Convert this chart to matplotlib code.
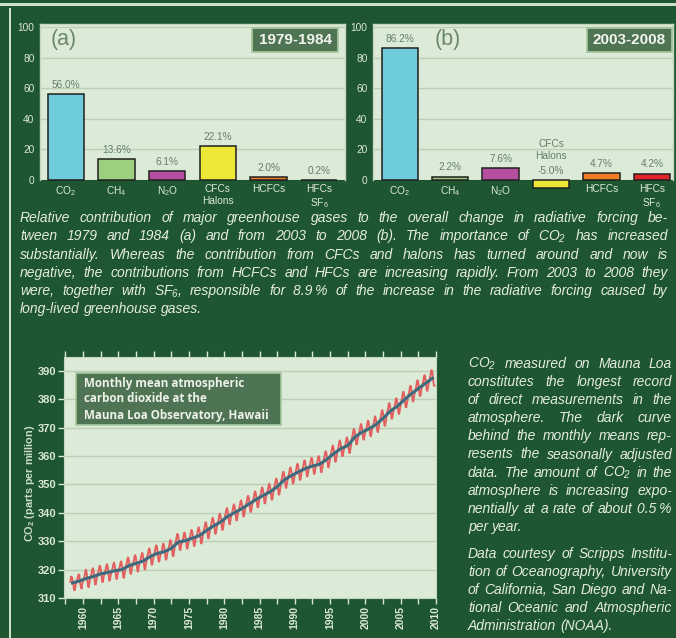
import numpy as np
import matplotlib
matplotlib.use("Agg")
import matplotlib.pyplot as plt
from matplotlib.patches import Rectangle

# ---------------------------------------------------------------- data
gases = ["CO$_\\mathregular{2}$", "CH$_\\mathregular{4}$", "N$_\\mathregular{2}$O",
         "CFCs\nHalons", "HCFCs", "HFCs\nSF$_\\mathregular{6}$"]
forcing_1979_1984 = [56.0, 13.6, 6.1, 22.1, 2.0, 0.2]
forcing_2003_2008 = [86.2, 2.2, 7.6, -5.0, 4.7, 4.2]
gas_colors = ["#6ecbd9", "#9ccf7e", "#b64f9f", "#ede838", "#f07e24", "#e2262b"]

co2_years = list(range(1958, 2010))
# monthly mean CO2 (ppm), Jan..Dec per year
co2_monthly = [
    [None, None, 315.7, 317.5, 317.5, 317.1, 315.9, 314.9, 313.2, 312.7, 313.3, 314.7],
    [315.6, 316.4, 316.7, 317.7, 318.3, 318.2, 316.5, 314.8, 313.8, 313.3, 314.8, 315.6],
    [316.4, 317.0, 317.6, 319.0, 320.0, 319.6, 318.2, 315.9, 314.2, 313.8, 315.0, 316.2],
    [317.1, 317.9, 318.7, 319.9, 320.5, 320.0, 318.5, 316.5, 314.8, 314.7, 316.0, 317.2],
    [318.0, 318.8, 319.6, 320.8, 321.4, 320.9, 319.4, 317.4, 315.7, 315.6, 316.9, 318.1],
    [318.5, 319.3, 320.1, 321.3, 321.9, 321.4, 319.9, 317.9, 316.2, 316.1, 317.4, 318.6],
    [319.1, 319.9, 320.7, 321.9, 322.5, 322.0, 320.5, 318.5, 316.8, 316.7, 318.0, 319.2],
    [319.5, 320.3, 321.1, 322.3, 322.9, 322.4, 320.9, 318.9, 317.2, 317.1, 318.4, 319.6],
    [320.9, 321.7, 322.5, 323.7, 324.3, 323.8, 322.3, 320.3, 318.6, 318.5, 319.8, 321.0],
    [321.7, 322.5, 323.3, 324.5, 325.1, 324.6, 323.1, 321.1, 319.4, 319.3, 320.6, 321.8],
    [322.5, 323.3, 324.1, 325.3, 325.9, 325.4, 323.9, 321.9, 320.2, 320.1, 321.4, 322.6],
    [324.1, 324.9, 325.7, 326.9, 327.5, 327.0, 325.5, 323.5, 321.8, 321.7, 323.0, 324.2],
    [325.2, 326.0, 326.8, 328.0, 328.6, 328.1, 326.6, 324.6, 322.9, 322.8, 324.1, 325.3],
    [325.6, 326.4, 327.3, 328.6, 329.2, 328.6, 327.3, 325.3, 323.6, 323.5, 324.9, 326.1],
    [326.8, 327.6, 328.5, 329.8, 330.4, 329.8, 328.5, 326.5, 324.8, 324.7, 326.1, 327.3],
    [329.0, 329.8, 330.7, 332.0, 332.6, 332.0, 330.7, 328.7, 327.0, 326.9, 328.3, 329.5],
    [329.5, 330.3, 331.2, 332.5, 333.1, 332.5, 331.2, 329.2, 327.5, 327.4, 328.8, 330.0],
    [330.4, 331.2, 332.1, 333.4, 334.0, 333.4, 332.1, 330.1, 328.4, 328.3, 329.7, 330.9],
    [331.3, 332.1, 333.0, 334.3, 334.9, 334.3, 333.0, 331.0, 329.3, 329.2, 330.6, 331.8],
    [333.1, 333.9, 334.8, 336.1, 336.7, 336.1, 334.8, 332.8, 331.1, 331.0, 332.4, 333.6],
    [334.7, 335.5, 336.4, 337.7, 338.3, 337.7, 336.4, 334.4, 332.7, 332.6, 334.0, 335.2],
    [336.1, 336.9, 337.8, 339.1, 339.7, 339.1, 337.8, 335.8, 334.1, 334.0, 335.4, 336.6],
    [338.1, 338.9, 339.8, 341.1, 341.7, 341.1, 339.8, 337.8, 336.1, 336.0, 337.4, 338.6],
    [339.4, 340.2, 341.1, 342.4, 343.0, 342.4, 341.1, 339.1, 337.4, 337.3, 338.7, 339.9],
    [340.8, 341.6, 342.5, 343.8, 344.4, 343.8, 342.5, 340.5, 338.8, 338.7, 340.1, 341.3],
    [342.4, 343.2, 344.1, 345.4, 346.0, 345.4, 344.1, 342.1, 340.4, 340.3, 341.7, 342.9],
    [344.0, 344.8, 345.7, 347.0, 347.6, 347.0, 345.7, 343.7, 342.0, 341.9, 343.3, 344.5],
    [345.4, 346.2, 347.1, 348.4, 349.0, 348.4, 347.1, 345.1, 343.4, 343.3, 344.7, 345.9],
    [346.7, 347.5, 348.4, 349.7, 350.3, 349.7, 348.4, 346.4, 344.7, 344.6, 346.0, 347.2],
    [348.5, 349.3, 350.2, 351.5, 352.1, 351.5, 350.2, 348.2, 346.5, 346.4, 347.8, 349.0],
    [350.9, 351.7, 352.6, 353.9, 354.5, 353.9, 352.6, 350.6, 348.9, 348.8, 350.2, 351.4],
    [352.4, 353.2, 354.1, 355.4, 356.0, 355.4, 354.1, 352.1, 350.4, 350.3, 351.7, 352.9],
    [353.7, 354.5, 355.4, 356.7, 357.3, 356.7, 355.4, 353.4, 351.7, 351.6, 353.0, 354.2],
    [354.9, 355.7, 356.6, 357.9, 358.5, 357.9, 356.6, 354.6, 352.9, 352.8, 354.2, 355.4],
    [355.8, 356.6, 357.5, 358.8, 359.4, 358.8, 357.5, 355.5, 353.8, 353.7, 355.1, 356.3],
    [356.4, 357.2, 358.1, 359.4, 360.0, 359.4, 358.1, 356.1, 354.4, 354.3, 355.7, 356.9],
    [358.1, 358.9, 359.8, 361.1, 361.7, 361.1, 359.8, 357.8, 356.1, 356.0, 357.4, 358.6],
    [360.1, 360.9, 361.8, 363.1, 363.7, 363.1, 361.8, 359.8, 358.1, 358.0, 359.4, 360.6],
    [361.7, 362.5, 363.4, 364.8, 365.5, 364.9, 363.6, 361.6, 360.0, 360.0, 361.3, 362.6],
    [362.8, 363.6, 364.5, 365.9, 366.6, 366.0, 364.7, 362.7, 361.1, 361.1, 362.4, 363.7],
    [365.8, 366.6, 367.5, 368.9, 369.6, 369.0, 367.7, 365.7, 364.1, 364.1, 365.4, 366.7],
    [367.5, 368.3, 369.2, 370.6, 371.3, 370.7, 369.4, 367.4, 365.8, 365.8, 367.1, 368.4],
    [368.7, 369.5, 370.4, 371.8, 372.5, 371.9, 370.6, 368.6, 367.0, 367.0, 368.3, 369.6],
    [370.2, 371.0, 371.9, 373.3, 374.0, 373.4, 372.1, 370.1, 368.5, 368.5, 369.8, 371.1],
    [372.4, 373.2, 374.1, 375.5, 376.2, 375.6, 374.3, 372.3, 370.7, 370.7, 372.0, 373.3],
    [374.9, 375.7, 376.6, 378.0, 378.7, 378.1, 376.8, 374.8, 373.2, 373.2, 374.5, 375.8],
    [376.6, 377.4, 378.3, 379.7, 380.4, 379.8, 378.5, 376.5, 374.9, 374.9, 376.2, 377.5],
    [378.9, 379.7, 380.6, 382.0, 382.7, 382.1, 380.8, 378.8, 377.2, 377.2, 378.5, 379.8],
    [381.0, 381.8, 382.7, 384.1, 384.8, 384.2, 382.9, 380.9, 379.3, 379.3, 380.6, 381.9],
    [382.9, 383.7, 384.6, 386.0, 386.7, 386.1, 384.8, 382.8, 381.2, 381.2, 382.5, 383.8],
    [384.7, 385.5, 386.4, 387.8, 388.5, 387.9, 386.6, 384.6, 383.0, 383.0, 384.3, 385.6],
    [386.5, 387.3, 388.2, 389.6, 390.3, 389.7, 388.4, 386.4, 384.8, 384.8, None, None],
]
# seasonally adjusted (annual mean) CO2, ppm
co2_adjusted = [315.3, 316.0, 316.9, 317.6, 318.5, 319.0, 319.6, 320.0, 321.4, 322.2,
                323.0, 324.6, 325.7, 326.3, 327.5, 329.7, 330.2, 331.1, 332.0, 333.8,
                335.4, 336.8, 338.8, 340.1, 341.5, 343.1, 344.7, 346.1, 347.4, 349.2,
                351.6, 353.1, 354.4, 355.6, 356.5, 357.1, 358.8, 360.8, 362.6, 363.7,
                366.7, 368.4, 369.6, 371.1, 373.3, 375.8, 377.5, 379.8, 381.9, 383.8,
                385.6, 387.4]

caption_lines = [
    "Relative contribution of major greenhouse gases to the overall change in radiative forcing be-",
    "tween 1979 and 1984 (a) and from 2003 to 2008 (b). The importance of CO$_\\mathregular{2}$ has increased",
    "substantially. Whereas the contribution from CFCs and halons has turned around and now is",
    "negative, the contributions from HCFCs and HFCs are increasing rapidly. From 2003 to 2008 they",
    "were, together with SF$_\\mathregular{6}$, responsible for 8.9\u2009% of the increase in the radiative forcing caused by",
    "long-lived greenhouse gases.",
]
side_par1 = [
    "CO$_\\mathregular{2}$ measured on Mauna Loa",
    "constitutes the longest record",
    "of direct measurements in the",
    "atmosphere. The dark curve",
    "behind the monthly means rep-",
    "resents the seasonally adjusted",
    "data. The amount of CO$_\\mathregular{2}$ in the",
    "atmosphere is increasing expo-",
    "nentially at a rate of about 0.5\u2009%",
    "per year.",
]
side_par2 = [
    "Data courtesy of Scripps Institu-",
    "tion of Oceanography, University",
    "of California, San Diego and Na-",
    "tional Oceanic and Atmospheric",
    "Administration (NOAA).",
]

# ---------------------------------------------------------------- style
BG = "#1d5631"
PANEL = "#dcebd7"
GRID = "#bccfb6"
LIGHT = "#dde8d6"
VALUE = "#63806a"
BOX_FILL = "#4f7453"
BOX_EDGE = "#a6c79e"
FRAME = "#cfe0c9"

plt.rcParams["font.family"] = ["Liberation Sans", "DejaVu Sans"]

W, H = 676, 638
fig = plt.figure(figsize=(W / 100, H / 100), dpi=100, facecolor=BG)


def px_rect(x0, y0, x1, y1):
    return [x0 / W, 1 - y1 / H, (x1 - x0) / W, (y1 - y0) / H]


def fx(x):
    return x / W


def fy(y):
    return 1 - y / H


# frame lines
fig.add_artist(Rectangle((0, fy(5.5)), 1, 2.2 / H, transform=fig.transFigure,
                         facecolor=FRAME, edgecolor="none", zorder=1))
fig.add_artist(Rectangle((fx(9), 0), 2.4 / W, fy(8), transform=fig.transFigure,
                         facecolor=FRAME, edgecolor="none", zorder=1))


def year_box(x0, y0, x1, y1, text, size=11):
    fig.add_artist(Rectangle((fx(x0), fy(y1)), (x1 - x0) / W, (y1 - y0) / H,
                             transform=fig.transFigure, facecolor=BOX_FILL,
                             edgecolor=BOX_EDGE, linewidth=1.3, zorder=5))
    fig.text(fx((x0 + x1) / 2), fy((y0 + y1) / 2), text, ha="center", va="center",
             color="#f2f5ee", fontsize=size, fontweight="bold", zorder=6)


def bar_panel(rect, values, labels, xlim, tag, tag_x, period, box):
    ax = fig.add_axes(rect)
    ax.set_facecolor(PANEL)
    x = np.arange(len(values))
    ax.bar(x, values, width=0.72, color=gas_colors, edgecolor="#202020",
           linewidth=1.1, clip_on=False, zorder=3)
    ax.set_xlim(*xlim)
    ax.set_ylim(0, 102)
    ax.set_yticks(range(0, 101, 20))
    ax.yaxis.grid(True, color=GRID, linewidth=1)
    ax.set_axisbelow(True)
    ax.set_xticks(x)
    ax.set_xticklabels(labels, fontsize=7.3, color=LIGHT, linespacing=1.25)
    ax.tick_params(axis="both", length=0, pad=3)
    ax.tick_params(axis="y", labelsize=7.3, labelcolor=LIGHT, pad=4)
    for s in ax.spines.values():
        s.set_color("#c3d8bd")
        s.set_linewidth(1)
    ax.spines["bottom"].set_visible(False)
    for xi, v in zip(x, values):
        ax.annotate(f"{v:.1f}%", (xi, max(v, 0)), xytext=(0, 3),
                    textcoords="offset points", ha="center", va="bottom",
                    fontsize=7.3, color=VALUE, zorder=4)
    fig.text(fx(tag_x), fy(40), tag, ha="center", va="center",
             fontsize=15.5, color="#6c886c")
    year_box(*box, period)
    return ax


ax_a = bar_panel(px_rect(40, 24, 345, 180), forcing_1979_1984, gases,
                 (-0.51, 5.51), "(a)", 64, "1979-1984", (252, 28, 338, 52))
labels_b = list(gases)
labels_b[3] = ""
ax_b = bar_panel(px_rect(373, 24, 673, 180), forcing_2003_2008, labels_b,
                 (-0.53, 5.42), "(b)", 448, "2003-2008", (587, 28, 672, 52))
ax_b.annotate("CFCs\nHalons", (3, 0), xytext=(0, 14), textcoords="offset points",
              ha="center", va="bottom", fontsize=7.3, color=VALUE,
              linespacing=1.15, zorder=4)

# ---------------------------------------------------------------- CO2 curve
ax = fig.add_axes(px_rect(64, 357, 436, 598))
ax.set_facecolor(PANEL)
t_month, v_month = [], []
for yr, row in zip(co2_years, co2_monthly):
    for m, v in enumerate(row):
        if v is not None:
            t_month.append(yr + (m + 0.5) / 12)
            v_month.append(v)
t_adj = [yr + 0.5 for yr in co2_years]
ax.plot(t_adj, co2_adjusted, color="#3d6b7d", linewidth=2.2, zorder=3)
ax.plot(t_month, v_month, color="#e35a5a", linewidth=1.4, zorder=2.5, alpha=0.95)
ax.set_xlim(1957.3, 2010)
ax.set_ylim(310, 394.9)
ax.set_yticks(range(310, 391, 10))
ax.set_xticks(range(1960, 2011, 5))
ax.set_xticks(np.arange(1957.5, 2010, 2.5), minor=True)
ax.yaxis.grid(True, color=GRID, linewidth=1)
ax.set_axisbelow(True)
ax.tick_params(axis="x", which="both", direction="out", colors=LIGHT, top=True,
               length=4, width=1, labelsize=7.5, labelrotation=90, pad=2)
ax.tick_params(axis="y", direction="out", colors=LIGHT, length=4, width=1,
               labelsize=8, pad=1.5)
for lab in ax.get_xticklabels() + ax.get_yticklabels():
    lab.set_fontweight("bold")
for s in ax.spines.values():
    s.set_color("#c3d8bd")
fig.text(fx(30), fy(483), "CO$_\\mathregular{2}$ (parts per million)", rotation=90,
         ha="center", va="center", fontsize=7.8, fontweight="bold", color="#cadcc3")

fig.add_artist(Rectangle((fx(76), fy(425)), 205 / W, 52 / H, transform=fig.transFigure,
                         facecolor=BOX_FILL, edgecolor=BOX_EDGE, linewidth=1.2, zorder=5))
fig.text(fx(84), fy(399), "Monthly mean atmospheric\ncarbon dioxide at the\nMauna Loa Observatory, Hawaii",
         ha="left", va="center", fontsize=8.4, fontweight="bold", color="#eef2ea",
         linespacing=1.3, zorder=6, family=["Open Sans", "DejaVu Sans"])

# ---------------------------------------------------------------- justified text
renderer = fig.canvas.get_renderer()
TXT = dict(style="italic", color="#e6ecdf", family=["Liberation Sans", "DejaVu Sans"])


def fitting_size(blocks, size0=10.0):
    """Largest font size at which every full line of the blocks fits its width."""
    scale = np.inf
    for lines, width in blocks:
        for line in lines[:-1]:
            t = fig.text(0, 0, line, fontsize=size0, **TXT)
            scale = min(scale, width / t.get_window_extent(renderer).width)
            t.remove()
    return size0 * scale * 0.985


def justified(lines, x0, x1, y0, dy, size):
    space = size * 100 / 72 * 0.28
    for i, line in enumerate(lines):
        words = line.split(" ")
        texts = [fig.text(0, 0, w, ha="left", va="baseline", fontsize=size, **TXT)
                 for w in words]
        widths = [t.get_window_extent(renderer).width for t in texts]
        if i == len(lines) - 1 or len(words) == 1:
            gap = space
        else:
            gap = (x1 - x0 - sum(widths)) / (len(words) - 1)
        x = x0
        y = y0 + i * dy
        for t, w in zip(texts, widths):
            t.set_position((fx(x), fy(y)))
            x += w + gap


size = fitting_size([(caption_lines, 648), (side_par1, 204), (side_par2, 204)])
justified(caption_lines, 20, 668, 222, 18.3, size)
justified(side_par1, 468, 672, 368, 18.1, size)
justified(side_par2, 468, 672, 558, 18.0, size)

fig.savefig("out.png", dpi=100, facecolor=BG)
